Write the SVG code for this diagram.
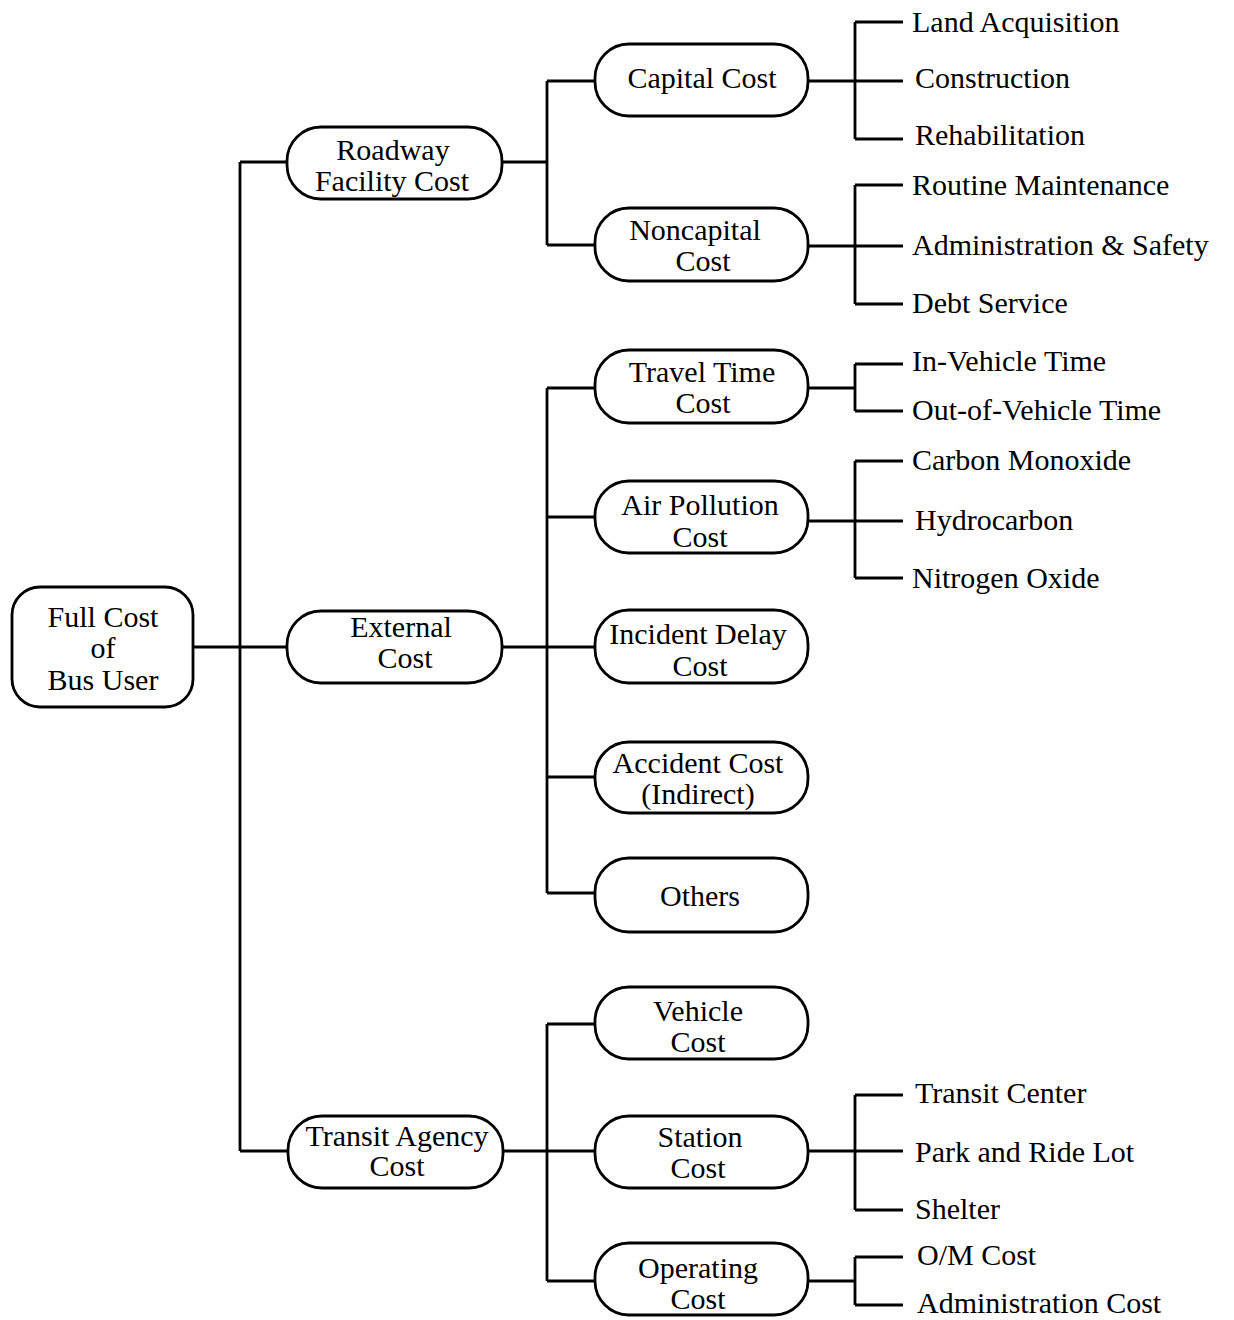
<svg xmlns="http://www.w3.org/2000/svg" width="1234" height="1320" viewBox="0 0 1234 1320">
<style>
.box{fill:#fff;stroke:#000;stroke-width:2.8}
.c{fill:none;stroke:#000;stroke-width:2.8}
text{font-family:"Liberation Serif","Times New Roman",serif;font-size:30px;fill:#000}
.m{text-anchor:middle}
</style>
<rect width="1234" height="1320" fill="#fff"/>
<g id="connectors" class="c">
<path d="M193 647H595"/>
<path d="M240 162V1151M240 162H288M240 1151H595"/>
<path d="M502 162H547M547 81V245M547 81H595M547 245H595"/>
<path d="M547 388V893M547 388H595M547 517H595M547 777H595M547 893H595"/>
<path d="M547 1024V1281M547 1024H595M547 1281H595"/>
<path d="M808 81H903M855 22V139M855 22H903M855 139H903"/>
<path d="M808 246H903M855 185V304M855 185H903M855 304H903"/>
<path d="M808 388H855M855 364V411M855 364H903M855 411H903"/>
<path d="M808 521H903M855 461V578M855 461H903M855 578H903"/>
<path d="M808 1151H903M855 1095V1210M855 1095H903M855 1210H903"/>
<path d="M808 1281H855M855 1257V1305M855 1257H903M855 1305H903"/>
</g>
<g id="root"><rect class="box" x="12" y="587" width="181" height="120" rx="28"/>
<text class="m" x="103" y="627">Full Cost</text><text class="m" x="103" y="658">of</text><text class="m" x="103" y="690">Bus User</text></g>
<g id="roadway"><rect class="box" x="287" y="127" width="215" height="72" rx="34"/>
<text class="m" x="393" y="160">Roadway</text><text class="m" x="392" y="191">Facility Cost</text></g>
<g id="external"><rect class="box" x="287" y="611" width="215" height="72" rx="34"/>
<text class="m" x="401" y="637">External</text><text class="m" x="405" y="668">Cost</text></g>
<g id="transit"><rect class="box" x="288" y="1116" width="215" height="72" rx="34"/>
<text class="m" x="397" y="1146">Transit Agency</text><text class="m" x="397" y="1176">Cost</text></g>
<g id="capital"><rect class="box" x="595" y="44" width="213" height="72" rx="34"/>
<text class="m" x="702" y="88">Capital Cost</text></g>
<g id="noncapital"><rect class="box" x="595" y="208" width="213" height="73" rx="34"/>
<text class="m" x="695" y="240">Noncapital</text><text class="m" x="703" y="271">Cost</text></g>
<g id="traveltime"><rect class="box" x="595" y="350" width="213" height="73" rx="34"/>
<text class="m" x="702" y="382">Travel Time</text><text class="m" x="703" y="413">Cost</text></g>
<g id="airpollution"><rect class="box" x="595" y="481" width="213" height="72" rx="34"/>
<text class="m" x="700" y="515">Air Pollution</text><text class="m" x="700" y="547">Cost</text></g>
<g id="incident"><rect class="box" x="595" y="610" width="213" height="73" rx="34"/>
<text class="m" x="698" y="644">Incident Delay</text><text class="m" x="700" y="676">Cost</text></g>
<g id="accident"><rect class="box" x="595" y="742" width="213" height="71" rx="34"/>
<text class="m" x="698" y="773">Accident Cost</text><text class="m" x="698" y="804">(Indirect)</text></g>
<g id="others"><rect class="box" x="595" y="858" width="213" height="74" rx="34"/>
<text class="m" x="700" y="906">Others</text></g>
<g id="vehicle"><rect class="box" x="595" y="987" width="213" height="72" rx="34"/>
<text class="m" x="698" y="1021">Vehicle</text><text class="m" x="698" y="1052">Cost</text></g>
<g id="station"><rect class="box" x="595" y="1116" width="213" height="72" rx="34"/>
<text class="m" x="700" y="1147">Station</text><text class="m" x="698" y="1178">Cost</text></g>
<g id="operating"><rect class="box" x="595" y="1243" width="213" height="72" rx="34"/>
<text class="m" x="698" y="1278">Operating</text><text class="m" x="698" y="1309">Cost</text></g>
<g id="leaves">
<text x="912" y="32">Land Acquisition</text>
<text x="915" y="88">Construction</text>
<text x="915" y="145">Rehabilitation</text>
<text x="912" y="195">Routine Maintenance</text>
<text x="912" y="255">Administration &amp; Safety</text>
<text x="912" y="313">Debt Service</text>
<text x="912" y="371">In-Vehicle Time</text>
<text x="912" y="420">Out-of-Vehicle Time</text>
<text x="912" y="470">Carbon Monoxide</text>
<text x="915" y="530">Hydrocarbon</text>
<text x="912" y="588">Nitrogen Oxide</text>
<text x="915" y="1103">Transit Center</text>
<text x="915" y="1162">Park and Ride Lot</text>
<text x="915" y="1219">Shelter</text>
<text x="917" y="1265">O/M Cost</text>
<text x="917" y="1313">Administration Cost</text>
</g>
</svg>
